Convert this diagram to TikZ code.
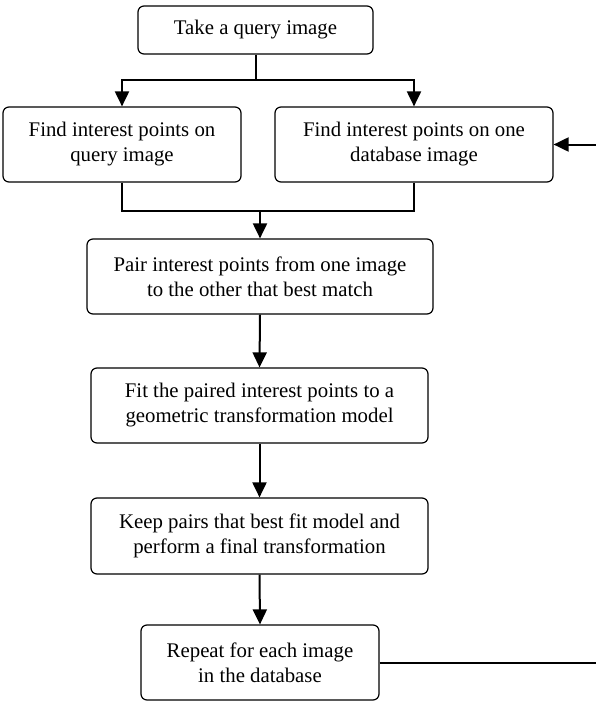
\documentclass[tikz,border=0pt]{standalone}
\usepackage{fontspec}
\setmainfont{Liberation Serif}
\usetikzlibrary{arrows.meta}
\begin{document}
\begin{tikzpicture}[x=1pt,y=-1pt,
  box/.style={draw, rounded corners=6pt, line width=1.2pt, align=center,
    font=\fontsize{20.8}{25}\selectfont, inner sep=0pt},
  conn/.style={line width=2pt},
  arr/.style={conn, -{Triangle[width=14pt,length=15pt]}}]
\useasboundingbox (0,0) rectangle (595,701);
\node[box, minimum width=235pt, minimum height=48pt] (top) at (255.5,30) {Take a query image};
\node[box, minimum width=238pt, minimum height=75pt] (left) at (122,144.5) {Find interest points on\\query image};
\node[box, minimum width=278pt, minimum height=75pt] (right) at (414,144.5) {Find interest points on one\\database image};
\node[box, minimum width=346pt, minimum height=75pt] (pair) at (260,276.5) {Pair interest points from one image\\to the other that best match};
\node[box, minimum width=337pt, minimum height=75pt] (fit) at (259.5,405.5) {Fit the paired interest points to a\\geometric transformation model};
\node[box, minimum width=337pt, minimum height=76pt] (keep) at (259.5,536) {Keep pairs that best fit model and\\perform a final transformation};
\node[box, minimum width=238pt, minimum height=75pt] (repeat) at (260,662.5) {Repeat for each image\\in the database};
\coordinate (s) at (255.5,80);
\coordinate (m) at (260,211);
\coordinate (fb) at (598,0);
\draw[conn] (top.south) -- (s);
\draw[arr] (s) -| (left.north);
\draw[arr] (s) -| (right.north);
\draw[conn] (left.south) |- (m);
\draw[conn] (right.south) |- (m);
\draw[arr] (m) -- (pair.north);
\draw[arr] (pair.south) -- (fit.north);
\draw[arr] (fit.south) -- (keep.north);
\draw[arr] (keep.south) -- (repeat.north);
\draw[arr] (repeat.east) -- (repeat.east -| fb) |- (right.east);
\end{tikzpicture}
\end{document}
